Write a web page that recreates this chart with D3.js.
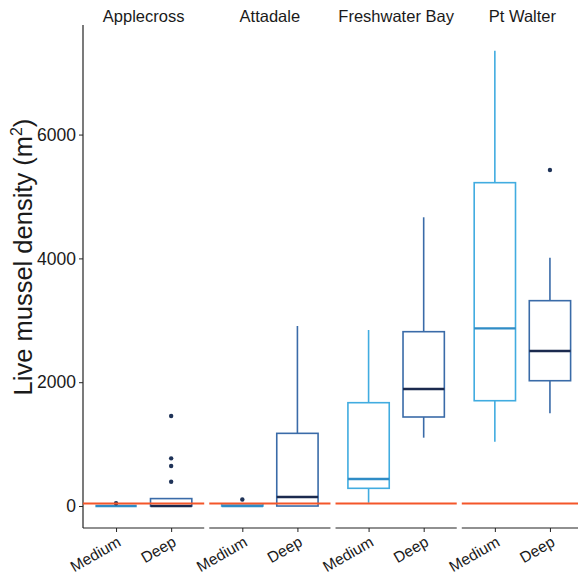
<!DOCTYPE html>
<html><head><meta charset="utf-8">
<script src="https://cdn.jsdelivr.net/npm/d3@7"></script>
<style>body{margin:0;background:#fff}svg{display:block}text{font-family:"Liberation Sans",Arial,sans-serif;fill:#1a1a1a}</style>
</head><body><div id="chart"></div>
<script>
const sites = ["Applecross","Attadale","Freshwater Bay","Pt Walter"];
const depths = ["Medium","Deep"];
// order: site-major, depth-minor
const boxSite  = ["Applecross","Applecross","Attadale","Attadale","Freshwater Bay","Freshwater Bay","Pt Walter","Pt Walter"];
const boxDepth = ["Medium","Deep","Medium","Deep","Medium","Deep","Medium","Deep"];
const whiskerLow  = [0, 0, 0, 0, 53, 1104, 1039, 1497];
const q1          = [0, 0, 0, 0, 286, 1438, 1701, 2024];
const median      = [0, 0, 0, 145, 436, 1890, 2870, 2504];
const q3          = [0, 120, 35, 1174, 1669, 2816, 5223, 3317];
const whiskerHigh = [0, 120, 35, 2908, 2843, 4664, 7356, 4011];
const outliers    = [[45], [1454, 770, 646, 393], [105], [], [], [], [], [5428]];
const yTicks = [0, 2000, 4000, 6000];
const refLine = 40;

const W = 578, H = 579;
const mLeft = 83, mTop = 25, mBottom = 528, mRight = 583;
const svg = d3.select("#chart").append("svg").attr("width", W).attr("height", H);

const y = d3.scaleLinear().domain([-355, 7770]).range([mBottom, mTop]);
const fx = d3.scaleBand().domain(sites).range([mLeft, mRight]).paddingInner(0.04);
const x = d3.scalePoint().domain(depths).range([0, fx.bandwidth()]).padding(0.6);
const boxW = x.step() * 0.75;

const strokeCol = {Medium: "#41ace0", Deep: "#3a6ba8"};
const medCol = {Medium: "#2f8cc6", Deep: "#1b2a4e"};

// y axis
const yAxis = svg.append("g").attr("transform", `translate(${mLeft},0)`)
  .call(d3.axisLeft(y).tickValues(yTicks).tickSize(4).tickPadding(3).tickFormat(d3.format("d")));
yAxis.select(".domain").attr("d", `M0,${mTop}V${mBottom}`).attr("stroke", "#222").attr("stroke-width", 1.2);
yAxis.selectAll(".tick line").attr("stroke", "#222");
yAxis.selectAll(".tick text").style("font-size", "17.5px").attr("fill", "#1a1a1a");

svg.append("text")
  .attr("transform", `translate(32,257) rotate(-90)`)
  .attr("text-anchor", "middle").style("font-size", "25.5px")
  .html('Live mussel density (m<tspan dy="-10" font-size="16px">2</tspan><tspan dy="10">)</tspan>');

sites.forEach(site => {
  const g = svg.append("g").attr("transform", `translate(${fx(site)},0)`);
  g.append("text").attr("x", fx.bandwidth() / 2).attr("y", 22)
    .attr("text-anchor", "middle").style("font-size", "16.5px").text(site);
  const xa = g.append("g").attr("transform", `translate(0,${mBottom})`)
    .call(d3.axisBottom(x).tickSize(4).tickFormat(""));
  xa.select(".domain").attr("d", `M0,0H${fx.bandwidth()}`).attr("stroke", "#222").attr("stroke-width", 1.2);
  xa.selectAll(".tick line").attr("stroke", "#222");
  depths.forEach(dp => {
    g.append("text")
      .attr("transform", `translate(${x(dp) + 6},${mBottom + 17}) rotate(-30)`)
      .attr("text-anchor", "end")
      .style("font-size", "15.5px").text(dp);
  });
});

boxSite.forEach((site, i) => {
  const dp = boxDepth[i];
  const cx = fx(site) + x(dp);
  const g = svg.append("g");
  const col = strokeCol[dp];
  g.append("line").attr("x1", cx).attr("x2", cx).attr("y1", y(whiskerHigh[i])).attr("y2", y(q3[i]))
    .attr("stroke", col).attr("stroke-width", 1.6);
  g.append("line").attr("x1", cx).attr("x2", cx).attr("y1", y(q1[i])).attr("y2", y(whiskerLow[i]))
    .attr("stroke", col).attr("stroke-width", 1.6);
  g.append("rect").attr("x", cx - boxW / 2).attr("width", boxW)
    .attr("y", y(q3[i])).attr("height", Math.max(0, y(q1[i]) - y(q3[i])))
    .attr("fill", "none").attr("stroke", col).attr("stroke-width", 1.6);
  g.append("line").attr("x1", cx - boxW / 2).attr("x2", cx + boxW / 2)
    .attr("y1", y(median[i])).attr("y2", y(median[i]))
    .attr("stroke", medCol[dp]).attr("stroke-width", 2.4);
  outliers[i].forEach(v => {
    g.append("circle").attr("cx", cx).attr("cy", y(v)).attr("r", 2.2).attr("fill", "#1f3358");
  });
});

// reference line per panel, drawn over the boxes
sites.forEach(site => {
  svg.append("line").attr("x1", fx(site)).attr("x2", fx(site) + fx.bandwidth())
    .attr("y1", y(refLine)).attr("y2", y(refLine))
    .attr("stroke", "#f4562a").attr("stroke-width", 2);
});
</script></body></html>
